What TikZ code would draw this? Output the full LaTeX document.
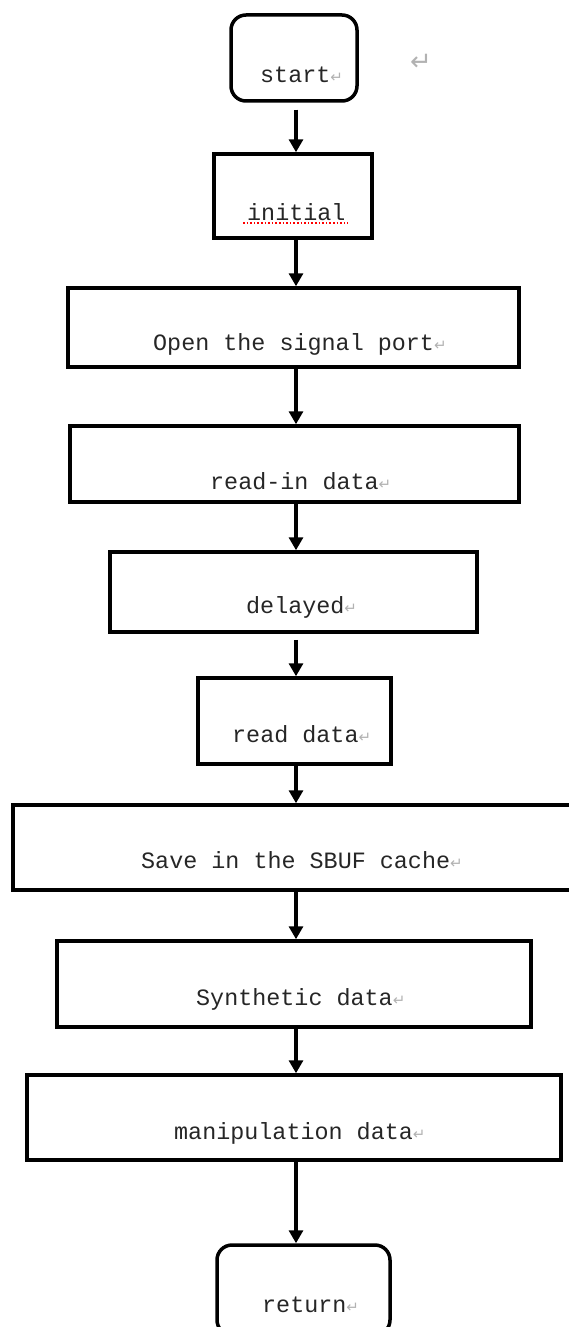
\documentclass[tikz,border=0pt]{standalone}
\usepackage{fontspec}
\setmainfont{Liberation Mono}
\newfontfamily\symfont{DejaVu Sans}
\usetikzlibrary{arrows.meta}
\newcommand{\retmark}{{\symfont\fontsize{15pt}{15pt}\selectfont\color{gray!60}↵}}
\begin{document}
\begin{tikzpicture}[x=1pt,y=-1pt,
  box/.style={draw, line width=3.5pt, inner sep=0pt},
  term/.style={box, rounded corners=15pt},
  txt/.style={anchor=base west, inner sep=0pt, text=black!85, font=\fontsize{23.4pt}{24pt}\selectfont},
  flow/.style={line width=3.2pt, -{Triangle[width=14pt,length=13pt]}}]
\useasboundingbox (0,0) rectangle (568,1327);
\coordinate (ax) at (296,0);
% boxes
\node[term, minimum width=126pt, minimum height=86pt] (start) at (294,58) {};
\node[box, minimum width=158pt, minimum height=84pt] (init) at (293,196) {};
\node[box, minimum width=451pt, minimum height=79pt] (open) at (293.5,327.5) {};
\node[box, minimum width=449pt, minimum height=76pt] (readin) at (294.5,464) {};
\node[box, minimum width=367pt, minimum height=80pt] (delay) at (293.5,592) {};
\node[box, minimum width=193pt, minimum height=86pt] (readd) at (294.5,721) {};
\node[box, minimum width=572pt, minimum height=85pt] (save) at (299,847.5) {};
\node[box, minimum width=474pt, minimum height=86pt] (synth) at (294,984) {};
\node[box, minimum width=534pt, minimum height=85pt] (manip) at (294,1117.5) {};
\node[term, minimum width=173pt, minimum height=90pt] (ret) at (303.5,1290) {};
% texts
\node[txt] (tstart) at (260,83) {start\retmark};
\node[txt] (tinit) at (247,220) {initial};
\node[txt] (topen) at (153,350) {Open the signal port\retmark};
\node[txt] (treadin) at (210,489) {read-in data\retmark};
\node[txt] (tdelay) at (246,613) {delayed\retmark};
\node[txt] (treadd) at (232,742) {read data\retmark};
\node[txt] (tsave) at (141,868) {Save in the SBUF cache\retmark};
\node[txt] (tsynth) at (196,1005) {Synthetic data\retmark};
\node[txt] (tmanip) at (174,1139) {manipulation data\retmark};
\node[txt] (tret) at (262,1312) {return\retmark};
\node[anchor=base west, inner sep=0pt, text=gray!60, font=\symfont\fontsize{26pt}{26pt}\selectfont] (lone) at (410,71) {↵};
% red spell-check underline
\draw[red, dotted, line width=1.6pt] ([xshift=-4pt,yshift=-3pt]tinit.base west) -- ([xshift=2pt,yshift=-3pt]tinit.base east);
% connectors
\draw[flow] ([yshift=-7pt]start.south -| ax) -- (init.north -| ax);
\draw[flow] (init.south -| ax) -- (open.north -| ax);
\draw[flow] (open.south -| ax) -- (readin.north -| ax);
\draw[flow] (readin.south -| ax) -- (delay.north -| ax);
\draw[flow] ([yshift=-6pt]delay.south -| ax) -- (readd.north -| ax);
\draw[flow] (readd.south -| ax) -- (save.north -| ax);
\draw[flow] (save.south -| ax) -- (synth.north -| ax);
\draw[flow] (synth.south -| ax) -- (manip.north -| ax);
\draw[flow] (manip.south -| ax) -- (ret.north -| ax);
\end{tikzpicture}
\end{document}
